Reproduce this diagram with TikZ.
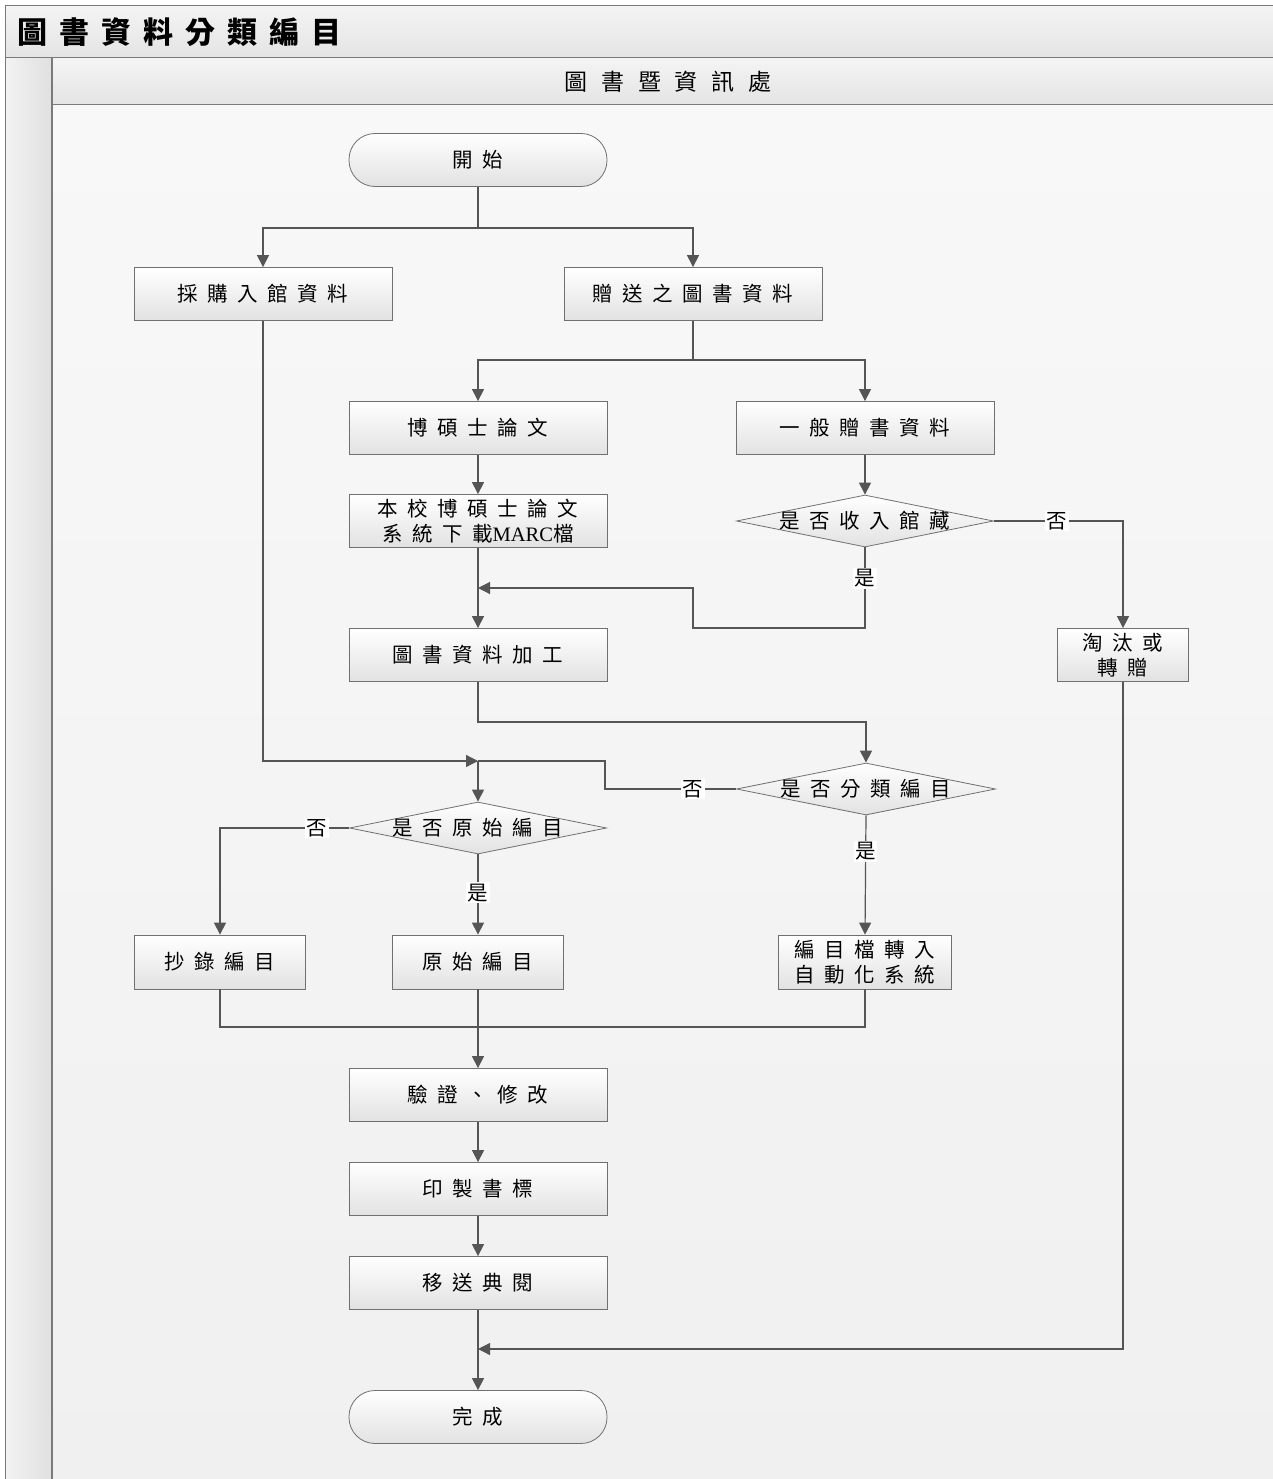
\documentclass[tikz,border=0pt]{standalone}
\usepackage{fontspec}
\usetikzlibrary{arrows.meta,shapes.geometric,calc}
\newfontfamily\cjk[LetterSpace=46]{Noto Sans CJK TC}
\newfontfamily\cjkt[LetterSpace=40]{Noto Sans CJK TC}
\newfontfamily\cjkh[LetterSpace=60]{Noto Sans CJK TC}
\newfontfamily\cjkn{Noto Sans CJK TC}
\newfontfamily\lat{Liberation Serif}
\definecolor{bordc}{HTML}{707070}
\definecolor{linec}{HTML}{555555}
\definecolor{boxb}{HTML}{E2E2E2}
\definecolor{framec}{HTML}{7A7A7A}
\definecolor{lanetop}{HTML}{F8F8F8}
\definecolor{lanebot}{HTML}{F0F0F0}
\definecolor{bandtop}{HTML}{F4F4F4}
\definecolor{bandbot}{HTML}{E4E4E4}
\definecolor{stripl}{HTML}{F2F2F2}
\definecolor{stripr}{HTML}{E0E0E0}
\tikzset{
  box/.style={draw=bordc, line width=0.8pt, top color=white, bottom color=boxb,
    minimum width=258pt, minimum height=53pt, inner sep=0pt, align=center,
    font=\cjk\fontsize{20.5}{24.5}\selectfont},
  term/.style={box, rounded corners=26pt},
  dec/.style={diamond, draw=bordc, line width=0.8pt, top color=white, bottom color=boxb,
    minimum width=257pt, minimum height=52pt, inner sep=0pt,
    font=\cjk\fontsize{20.5}{24.5}\selectfont},
  lbl/.style={fill=white, inner sep=1.5pt, font=\cjkn\fontsize{20.5}{20.5}\selectfont},
  conn/.style={draw=linec, line width=1.2pt},
  arr/.style={conn, -{Triangle[width=12pt,length=12pt]}},
  ttl/.style={font=\cjkt\bfseries\fontsize{30}{30}\selectfont, inner sep=0pt},
  hdr/.style={font=\cjkh\fontsize{23}{23}\selectfont, inner sep=0pt},
}
\begin{document}
\begin{tikzpicture}[x=1pt,y=-1pt]
\useasboundingbox (0,0) rectangle (1272,1479);
% backgrounds
\shade[top color=lanetop, bottom color=lanebot] (52,105) rectangle (1290,1500);
\shade[top color=bandtop, bottom color=bandbot] (5.5,5.5) rectangle (1290,58);
\shade[top color=bandtop, bottom color=bandbot] (52,58) rectangle (1290,105);
\shade[left color=stripl, right color=stripr] (5.5,58) rectangle (52,1500);
\draw[framec, line width=1.2pt] (5.5,1500) -- (5.5,5.5) -- (1290,5.5);
\draw[framec, line width=1pt] (5.5,58) -- (1290,58);
\draw[framec, line width=1pt] (52,105) -- (1290,105);
\draw[framec, line width=1.4pt] (52,58) -- (52,1500);
\node[ttl, anchor=west] (title) at (17,32) {圖書資料分類編目};
\node[hdr] (lane) at (668,82) {圖書暨資訊處};
% nodes
\node[term] (st) at (478,160) {開始};
\node[box] (cg) at (263,294) {採購入館資料};
\node[box] (zs) at (693,294) {贈送之圖書資料};
\node[box] (bs) at (478,428) {博碩士論文};
\node[box] (yb) at (865,428) {一般贈書資料};
\node[box] (bx) at (478,521) {本校博碩士論文\\系統下載{\lat MARC}檔};
\node[dec] (d1) at (865,521) {\makebox[0pt]{是否收入館藏}};
\node[box] (jg) at (478,655) {圖書資料加工};
\node[box, minimum width=131pt] (tt) at (1123,655) {淘汰或\\轉贈};
\node[dec, minimum width=259pt] (d2) at (866,789) {\makebox[0pt]{是否分類編目}};
\node[dec] (d3) at (478,828) {\makebox[0pt]{是否原始編目}};
\node[box, minimum width=171pt, minimum height=54pt] (cl) at (220,962) {抄錄編目};
\node[box, minimum width=171pt, minimum height=54pt] (ys) at (478,962) {原始編目};
\node[box, minimum width=173pt, minimum height=54pt] (bm) at (865,962) {編目檔轉入\\自動化系統};
\node[box] (yz) at (478,1095) {驗證、修改};
\node[box] (yz2) at (478,1189) {印製書標};
\node[box] (ys2) at (478,1283) {移送典閱};
\node[term] (en) at (478,1417) {完成};
% connectors
\coordinate (j1) at (478,228);
\coordinate (j2) at (693,360);
\coordinate (m1) at (478,588);
\coordinate (m2) at (478,761);
\coordinate (m3) at (478,1027);
\coordinate (m4) at (478,1349);
\draw[conn] (st.south) -- (j1);
\draw[arr] (j1) -| (cg.north);
\draw[arr] (j1) -| (zs.north);
\draw[conn] (zs.south) -- (j2);
\draw[arr] (j2) -| (bs.north);
\draw[arr] (j2) -| (yb.north);
\draw[arr] (bs.south) -- (bx.north);
\draw[arr] (yb.south) -- (d1.north);
\draw[arr] (d1.east) -- node[lbl, pos=0.49]{否} (d1.east -| tt.north) -- (tt.north);
\draw[arr] (d1.south) -- node[lbl, pos=0.38]{是} (865,628) -- (693,628) -- (693,588) -- (m1);
\draw[arr] (bx.south) -- (jg.north);
\draw[arr] (jg.south) -- ++(0,40) -| (d2.north);
\draw[arr] (cg.south) |- (m2);
\draw[conn] (d2.west) -- node[lbl, pos=0.33]{否} (605,789) |- (m2);
\draw[arr] (m2) -- (d3.north);
\draw[arr] (d3.west) -- node[lbl, pos=0.25]{否} (d3.west -| cl.north) -- (cl.north);
\draw[arr] (d3.south) -- node[lbl, pos=0.48]{是} (ys.north);
\draw[arr] (d2.south) -- node[lbl, pos=0.3]{是} (bm.north);
\draw[conn] (cl.south) |- (m3) -| (bm.south);
\draw[arr] (ys.south) -- (yz.north);
\draw[arr] (yz.south) -- (yz2.north);
\draw[arr] (yz2.south) -- (ys2.north);
\draw[arr] (ys2.south) -- (en.north);
\draw[arr] (tt.south) |- (m4);
\end{tikzpicture}
\end{document}
